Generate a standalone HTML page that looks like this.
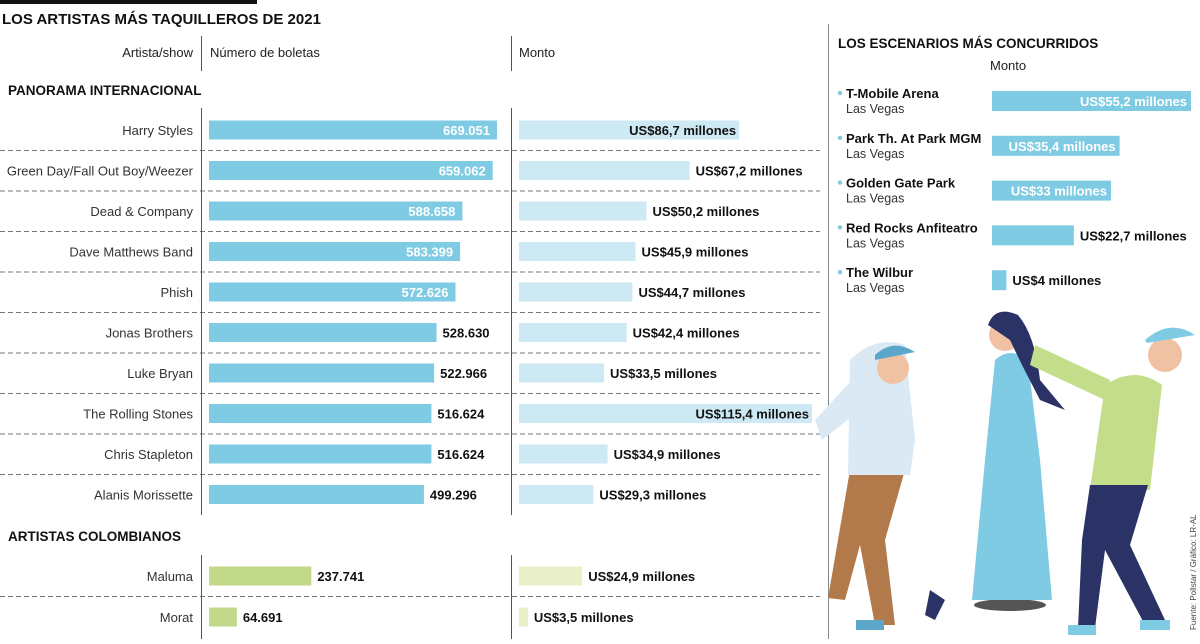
<!DOCTYPE html>
<html><head><meta charset="utf-8"><style>
body{margin:0;background:#fff;width:1200px;height:639px;overflow:hidden;font-family:"Liberation Sans",sans-serif}
svg text{font-family:"Liberation Sans",sans-serif}
</style></head><body>
<svg id="c" width="1200" height="639">
<rect x="0" y="0" width="257" height="4" fill="#111"/>
<text x="2" y="24" font-size="15" font-weight="bold" fill="#111">LOS ARTISTAS MÁS TAQUILLEROS DE 2021</text>
<text x="193" y="57" font-size="13" text-anchor="end" fill="#222">Artista/show</text>
<text x="210" y="57" font-size="13" fill="#222">Número de boletas</text>
<text x="519" y="57" font-size="13" fill="#222">Monto</text>
<line x1="201.5" y1="36" x2="201.5" y2="71" stroke="#555"/>
<line x1="511.5" y1="36" x2="511.5" y2="71" stroke="#555"/>
<text x="8" y="95" font-size="13.5" font-weight="bold" fill="#111">PANORAMA INTERNACIONAL</text>
<text x="8" y="541" font-size="13.5" font-weight="bold" fill="#111">ARTISTAS COLOMBIANOS</text>
<line x1="828.5" y1="24" x2="828.5" y2="639" stroke="#888"/>
<text x="838" y="48" font-size="13.5" font-weight="bold" fill="#111">LOS ESCENARIOS MÁS CONCURRIDOS</text>
<text x="990" y="70" font-size="13" fill="#222">Monto</text>
<g id="illu">
<!-- left singer -->
<path d="M850 470 L905 470 L885 540 L895 625 L875 625 L860 545 L845 600 L828 598 Z" fill="#b27a4a"/>
<path d="M850 360 Q875 335 905 345 L915 440 L910 475 L848 475 Z" fill="#dbe9f5"/>
<path d="M852 380 L815 420 L822 440 L860 410 Z" fill="#dbe9f5"/>
<circle cx="893" cy="368" r="16" fill="#f1c1a4"/>
<path d="M875 355 Q893 338 915 352 L875 360 Z" fill="#5aa7c9"/>
<rect x="856" y="620" width="28" height="10" fill="#5aa7c9"/>
<!-- woman -->
<rect x="1007" y="370" width="5" height="225" fill="#c9c9c9"/>
<ellipse cx="1010" cy="605" rx="36" ry="6" fill="#555"/>
<path d="M995 360 Q1012 345 1028 362 L1040 460 L1052 600 L972 600 L985 460 Z" fill="#7ecbe3"/>
<circle cx="1005" cy="335" r="16" fill="#f1c1a4"/>
<path d="M988 325 Q995 305 1018 315 Q1035 335 1040 380 L1065 410 L1040 400 L1022 365 L1010 340 Z" fill="#2b3366"/>
<path d="M930 590 L945 600 L935 620 L925 615 Z" fill="#2b3366"/>
<!-- right singer -->
<path d="M1035 345 L1110 380 L1105 400 L1030 365 Z" fill="#c3dd8b"/>
<path d="M1105 385 Q1135 365 1162 385 L1150 490 L1090 490 Z" fill="#c3dd8b"/>
<circle cx="1165" cy="355" r="17" fill="#f1c1a4"/>
<path d="M1145 340 Q1170 318 1195 335 L1147 343 Z" fill="#7ecbe3"/>
<path d="M1090 485 L1148 485 L1130 545 L1165 620 L1145 625 L1105 550 L1095 628 L1078 628 L1082 540 Z" fill="#2b3366"/>
<rect x="1140" y="620" width="30" height="10" fill="#7ecbe3"/>
<rect x="1068" y="625" width="28" height="10" fill="#7ecbe3"/>
</g>
<text transform="translate(1196,630) rotate(-90)" font-size="8" fill="#444">Fuente: Pollstar / Gráfico: LR-AL</text>
</svg>
<script>
const artists=["Harry Styles","Green Day/Fall Out Boy/Weezer","Dead & Company","Dave Matthews Band","Phish","Jonas Brothers","Luke Bryan","The Rolling Stones","Chris Stapleton","Alanis Morissette"];
const tickets=[669051,659062,588658,583399,572626,528630,522966,516624,516624,499296];
const monto=[86.7,67.2,50.2,45.9,44.7,42.4,33.5,115.4,34.9,29.3];
const colArtists=["Maluma","Morat"];
const colTickets=[237741,64691];
const colMonto=[24.9,3.5];
const venues=["T-Mobile Arena","Park Th. At Park MGM","Golden Gate Park","Red Rocks Anfiteatro","The Wilbur"];
const venueCity=["Las Vegas","Las Vegas","Las Vegas","Las Vegas","Las Vegas"];
const venueMonto=[55.2,35.4,33,22.7,4];

const NS="http://www.w3.org/2000/svg",svg=document.getElementById('c'),illu=document.getElementById('illu');
function el(t,a,txt){const e=document.createElementNS(NS,t);for(const k in a)e.setAttribute(k,a[k]);if(txt!=null)e.textContent=txt;svg.insertBefore(e,illu);return e;}
const xT=v=>v*288/669051, xM=v=>v*293/115.4, xV=v=>v*199/55.2;
const fmtT=v=>String(v).replace(/\B(?=(\d{3})+(?!\d))/g,".");
const fmtM=v=>"US$"+String(v).replace(".",",")+" millones";
function row(name,t,m,y,dark,light,inT,inM){
  let e=el('text',{x:193,y:y+5,'font-size':13,'text-anchor':'end',fill:'#333'},name);
  
  const w=xT(t);
  e=el('rect',{x:209,y:y-9.5,width:w,height:19,fill:dark});
  
  e=inT?el('text',{x:209+w-7,y:y+5,'font-size':13,'font-weight':'bold','text-anchor':'end',fill:'#fff'},fmtT(t)):el('text',{x:209+w+6,y:y+5,'font-size':13,'font-weight':'bold',fill:'#111'},fmtT(t));
  
  const wm=xM(m);
  e=el('rect',{x:519,y:y-9.5,width:wm,height:19,fill:light});
  
  e=inM?el('text',{x:519+wm-3,y:y+5,'font-size':13,'font-weight':'bold','text-anchor':'end',fill:'#111'},fmtM(m)):el('text',{x:519+wm+6,y:y+5,'font-size':13,'font-weight':'bold',fill:'#111'},fmtM(m));
  
}
const y0=130,dy=40.5;
artists.forEach((a,i)=>{
  const y=y0+i*dy;
  row(a,tickets[i],monto[i],y,'#7ecbe3','#cde9f3',tickets[i]>560000,monto[i]>80);
  if(i<artists.length-1){const d=el('line',{x1:0,y1:y+20.5,x2:820,y2:y+20.5,stroke:'#777','stroke-dasharray':'5,3'});}
});
let v=el('line',{x1:201.5,y1:108,x2:201.5,y2:515,stroke:'#555'});
v=el('line',{x1:511.5,y1:108,x2:511.5,y2:515,stroke:'#555'});
colArtists.forEach((a,i)=>{
  const y=576+i*41;
  row(a,colTickets[i],colMonto[i],y,'#c3d98a','#e9efc9',false,false);
  if(i<colArtists.length-1){const d=el('line',{x1:0,y1:y+20.5,x2:820,y2:y+20.5,stroke:'#777','stroke-dasharray':'5,3'});}
});
v=el('line',{x1:201.5,y1:555,x2:201.5,y2:639,stroke:'#555'});
v=el('line',{x1:511.5,y1:555,x2:511.5,y2:639,stroke:'#555'});
venues.forEach((n,i)=>{
  const y=101+i*44.8;
  let e=el('circle',{cx:840,cy:y-8,r:2.2,fill:'#7ecbe3'});
  e=el('text',{x:846,y:y-3,'font-size':13,'font-weight':'bold',fill:'#111'},n);
  e=el('text',{x:846,y:y+12,'font-size':12.5,fill:'#333'},venueCity[i]);
  const w=xV(venueMonto[i]);
  e=el('rect',{x:992,y:y-10,width:w,height:20,fill:'#7ecbe3'});
  const inside=venueMonto[i]>30;
  e=inside?el('text',{x:992+w-4,y:y+5,'font-size':13,'font-weight':'bold','text-anchor':'end',fill:'#fff'},fmtM(venueMonto[i])):el('text',{x:992+w+6,y:y+5,'font-size':13,'font-weight':'bold',fill:'#111'},fmtM(venueMonto[i]));
  
});
</script>
</body></html>
